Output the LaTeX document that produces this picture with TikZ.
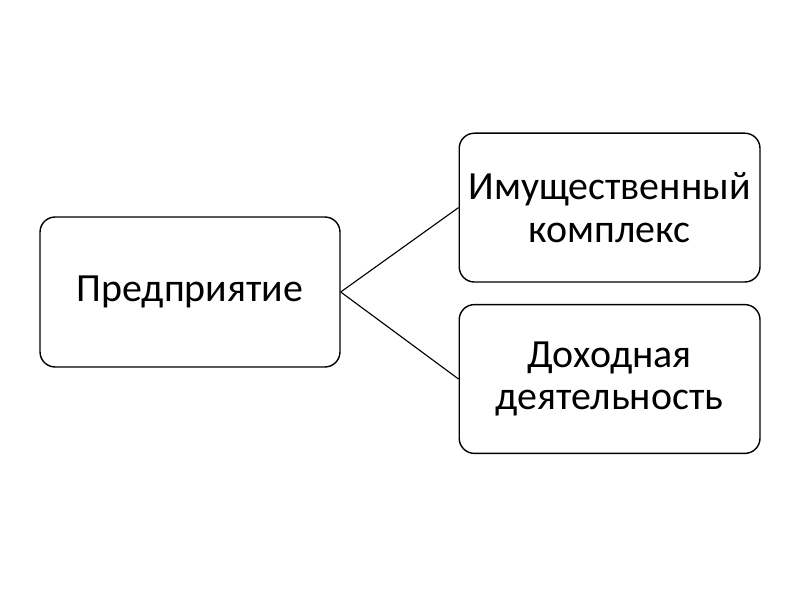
\documentclass[tikz,border=0pt]{standalone}
\usepackage{fontspec}
\setmainfont{Carlito}
\usetikzlibrary{shapes}

\begin{document}
\begin{tikzpicture}
			\tikzstyle{block}=[rectangle,draw,rounded corners=0.38cm,line width=1pt,align=center,inner sep=0pt,minimum width=7.52cm,minimum height=3.72cm,font=\fontsize{28.4}{30.5}\selectfont]
			\tikzstyle{every node}=[block]
			\useasboundingbox (0,0) rectangle (20,15);
			
			\node (firm) [minimum width=7.5cm,minimum height=3.75cm] at (4.75,7.7) {Предприятие};
			\node (prop) at (15.24,9.81) {Имущественный\\комплекс};
			\node (income) at (15.24,5.525) {Доходная\\деятельность};
			
			\draw[line width=0.8pt] (firm.east) -- (prop.west);
			\draw[line width=0.8pt] (firm.east) -- (income.west);
			
			\end{tikzpicture}
\end{document}
